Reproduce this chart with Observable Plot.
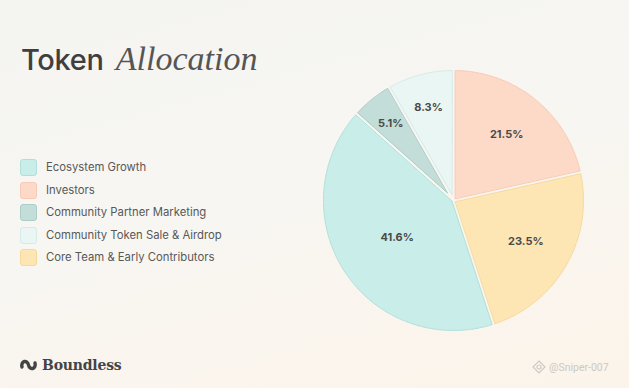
<!DOCTYPE html>
<html><head><meta charset="utf-8">
<script src="https://cdn.jsdelivr.net/npm/d3@7"></script>
<script src="https://cdn.jsdelivr.net/npm/@observablehq/plot@0.6"></script>
<style>
html,body{margin:0;padding:0;}
body{width:629px;height:388px;overflow:hidden;position:relative;
  background:linear-gradient(165deg,#f4f4f1 0%,#f7f6f2 45%,#fcf4ea 100%);
  font-family:Inter,"Noto Sans",sans-serif;}
#title{position:absolute;left:21px;top:39px;white-space:nowrap;line-height:40px;color:#3f3f3f;}
#title .a{font-family:Inter,sans-serif;font-weight:500;font-size:29px;letter-spacing:-0.3px;}
#title .b{font-family:"Liberation Serif",serif;font-style:italic;font-size:34px;color:#555;margin-left:12px;}
#legend{position:absolute;left:20px;top:159px;}
.row{height:22.5px;display:flex;align-items:flex-start;}
.sw{width:15px;height:15px;border-radius:3px;border:1px solid;box-sizing:content-box;}
.lab{margin-left:9px;font-size:11.3px;color:#585858;line-height:16px;}
#chart{position:absolute;left:317px;top:64px;}
#logo{position:absolute;left:19px;top:357px;display:flex;align-items:center;color:#444;}
#logo span{font-family:"DejaVu Serif",serif;font-weight:bold;font-size:14px;margin-left:4px;letter-spacing:-0.2px;}
#wm{position:absolute;left:532px;top:360px;color:#cdc9c4;font-size:10.5px;font-family:Roboto,sans-serif;display:flex;align-items:center;}
</style></head>
<body>
<div id="title"><span class="a">Token</span><span class="b">Allocation</span></div>
<div id="legend"></div>
<div id="chart"></div>
<div id="logo"><svg width="19" height="14" viewBox="0 0 19 14"><path d="M3,9 C1.5,2.5 8.5,1.5 9.5,7 C10.5,12.5 17.5,11.5 16,5" fill="none" stroke="#444" stroke-width="3.4" stroke-linecap="round"/></svg><span>Boundless</span></div>
<div id="wm"><svg width="14" height="14" viewBox="0 0 14 14"><path d="M7,1 L13,7 L7,13 L1,7 Z" fill="none" stroke="#cdc9c4" stroke-width="1.2"/><circle cx="7" cy="7" r="2" fill="none" stroke="#cdc9c4" stroke-width="1.2"/></svg><span style="margin-left:3px">@Sniper-007</span></div>
<script>
// Legend order
const categories = ["Ecosystem Growth","Investors","Community Partner Marketing","Community Token Sale & Airdrop","Core Team & Early Contributors"];
const values = [41.6, 21.5, 5.1, 8.3, 23.5];
const fills = ["#c9eee9","#fdd9c7","#c3ddd8","#e9f6f4","#fee6b4"];
const edges = ["#b0e0d9","#f7cbb5","#adcdc7","#d6ebe7","#f7d99b"];
// Clockwise from 12 o'clock
const pieOrder = ["Investors","Core Team & Early Contributors","Ecosystem Growth","Community Partner Marketing","Community Token Sale & Airdrop"];

const table = pieOrder.map(n => ({name: n, value: values[categories.indexOf(n)]}));
const arcs = d3.pie().sort(null).value(d => d.value)(table);

const R = 130;            // pixel radius
const g = 1.6 / R;        // half gap in data units
const pts = [], labels = [];
for (const a of arcs) {
  const a0 = a.startAngle, a1 = a.endAngle, th = a1 - a0, m = (a0 + a1) / 2;
  const d = g / Math.sin(th / 2);
  const poly = [[Math.sin(m) * d, Math.cos(m) * d]];
  const s = Math.asin(g), e0 = a0 + s, e1 = a1 - s;
  const n = Math.max(8, Math.ceil((e1 - e0) / 0.01));
  for (let i = 0; i <= n; i++) {
    const t = e0 + (e1 - e0) * i / n;
    poly.push([Math.sin(t), Math.cos(t)]);
  }
  for (const [x, y] of poly) pts.push({name: a.data.name, x, y});
  const lr = 0.80 - 0.0068 * a.data.value;
  labels.push({x: Math.sin(m) * lr, y: Math.cos(m) * lr, text: a.data.value.toFixed(1) + "%"});
}

const chart = Plot.plot({
  width: 272, height: 272, margin: 6,
  x: {domain: [-1, 1], axis: null},
  y: {domain: [-1, 1], axis: null},
  color: {domain: categories, range: fills},
  style: {background: "transparent", overflow: "visible"},
  marks: [
    Plot.line(pts, {x: "x", y: "y", z: "name", fill: "name", curve: "linear-closed",
      stroke: d => edges[categories.indexOf(d.name)], strokeWidth: 1}),
    Plot.text(labels, {x: "x", y: "y", text: "text", fontSize: 11, fontWeight: 700,
      fill: "#4a4a4a", fontFamily: "Inter, sans-serif"})
  ]
});
document.getElementById("chart").append(chart);

const leg = document.getElementById("legend");
categories.forEach((c, i) => {
  const row = document.createElement("div"); row.className = "row";
  const sw = document.createElement("div"); sw.className = "sw";
  sw.style.background = fills[i]; sw.style.borderColor = edges[i];
  const lab = document.createElement("div"); lab.className = "lab"; lab.textContent = c;
  row.append(sw, lab); leg.append(row);
});
</script>
</body></html>
